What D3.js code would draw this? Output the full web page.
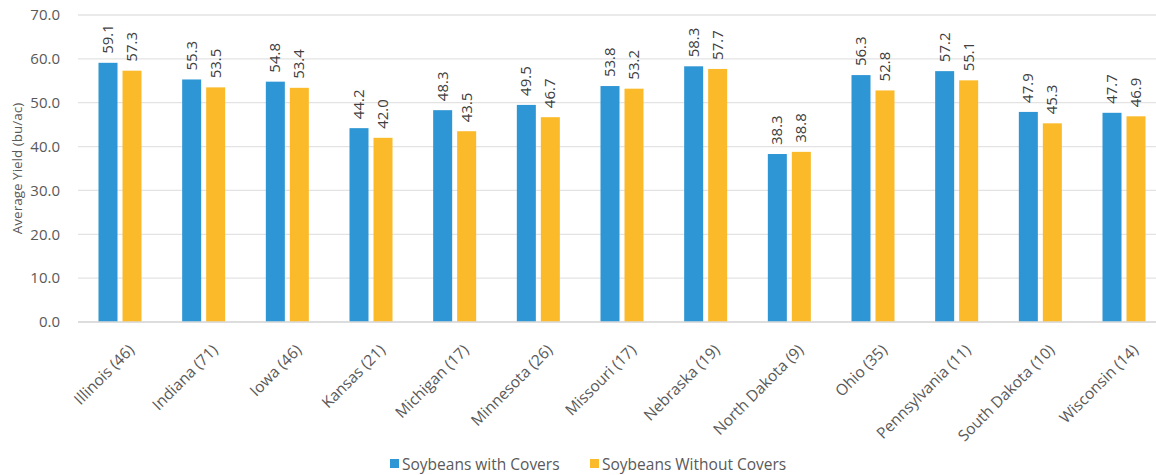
<!DOCTYPE html>
<html><head><meta charset="utf-8">
<script src="https://cdn.jsdelivr.net/npm/d3@7"></script>
<style>body{margin:0;background:#fff}svg{display:block;font-family:"Open Sans","Liberation Sans",sans-serif}</style>
</head><body><svg id="c" width="1156" height="475"></svg>
<script>
const categories = ["Illinois (46)","Indiana (71)","Iowa (46)","Kansas (21)","Michigan (17)","Minnesota (26)","Missouri (17)","Nebraska (19)","North Dakota (9)","Ohio (35)","Pennsylvania (11)","South Dakota (10)","Wisconsin (14)"];
const withCovers = [59.1,55.3,54.8,44.2,48.3,49.5,53.8,58.3,38.3,56.3,57.2,47.9,47.7];
const withoutCovers = [57.3,53.5,53.4,42.0,43.5,46.7,53.2,57.7,38.8,52.8,55.1,45.3,46.9];
const seriesNames = ["Soybeans with Covers","Soybeans Without Covers"];
const yTicks = [0,10,20,30,40,50,60,70];

const colors = ["#2E96D4","#FBBA2A"];
const svg = d3.select("#c");
const W = 1156, H = 475;
const m = {l:78, t:15, b:153};
const x = d3.scaleBand().domain(categories).range([m.l, 1166]).paddingInner(0.486).paddingOuter(0.245);
const x1 = d3.scaleBand().domain([0,1]).range([0, x.bandwidth()]).paddingInner(0.208);
const y = d3.scaleLinear().domain([0,70]).range([H - m.b, m.t]);

// gridlines
svg.append("g").selectAll("line").data(yTicks).join("line")
  .attr("x1", m.l).attr("x2", W)
  .attr("y1", d => y(d)).attr("y2", d => y(d))
  .attr("stroke", "#e3e3e3").attr("stroke-width", 1.3);

// y axis labels
const ya = svg.append("g").attr("transform", `translate(${m.l - 15},0)`)
  .call(d3.axisLeft(y).tickValues(yTicks).tickFormat(d3.format(".1f")).tickSize(0));
ya.select(".domain").remove();
ya.selectAll("text").attr("fill","#595959").attr("font-size","15px").attr("font-family","Open Sans");

// y title
svg.append("text").attr("transform", `translate(22,${(y(0)+y(70))/2}) rotate(-90)`)
  .attr("text-anchor","middle").attr("fill","#595959").attr("font-size","13.5px").text("Average Yield (bu/ac)");

const data = categories.map((c,i)=>({c, v:[withCovers[i], withoutCovers[i]]}));
const g = svg.append("g").selectAll("g").data(data).join("g")
  .attr("transform", d => `translate(${x(d.c)},0)`);
g.selectAll("rect").data(d => d.v.map((v,k)=>({v,k}))).join("rect")
  .attr("x", d => x1(d.k)).attr("width", x1.bandwidth())
  .attr("y", d => y(d.v)).attr("height", d => y(0) - y(d.v))
  .attr("fill", d => colors[d.k]);
g.selectAll("text.val").data(d => d.v.map((v,k)=>({v,k}))).join("text").attr("class","val")
  .attr("transform", d => `translate(${x1(d.k) + x1.bandwidth()/2 + 5},${y(d.v) - 9}) rotate(-90)`)
  .attr("fill","#404040").attr("font-size","15px").text(d => d.v.toFixed(1));

// x axis labels
const xa = svg.append("g").attr("transform", `translate(0,${y(0)})`)
  .call(d3.axisBottom(x).tickSize(0));
xa.select(".domain").remove();
svg.append("line").attr("x1", m.l).attr("x2", W).attr("y1", y(0)).attr("y2", y(0))
  .attr("stroke","#d9d9d9").attr("stroke-width",1.3);
xa.selectAll("text").attr("fill","#595959").attr("font-size","15.5px").attr("font-family","Open Sans")
  .attr("text-anchor","end").attr("dy", 0)
  .attr("transform","translate(13,27) rotate(-45)");

// legend
const leg = svg.append("g").attr("transform", `translate(390,466)`);
const lx = [0, 200];
seriesNames.forEach((s,i)=>{
  leg.append("rect").attr("x", lx[i]).attr("y", -7).attr("width", 9).attr("height", 9).attr("fill", colors[i]);
  leg.append("text").attr("x", lx[i] + 12).attr("y", 4).attr("fill","#595959").attr("font-size","15.5px").text(s);
});
</script></body></html>
